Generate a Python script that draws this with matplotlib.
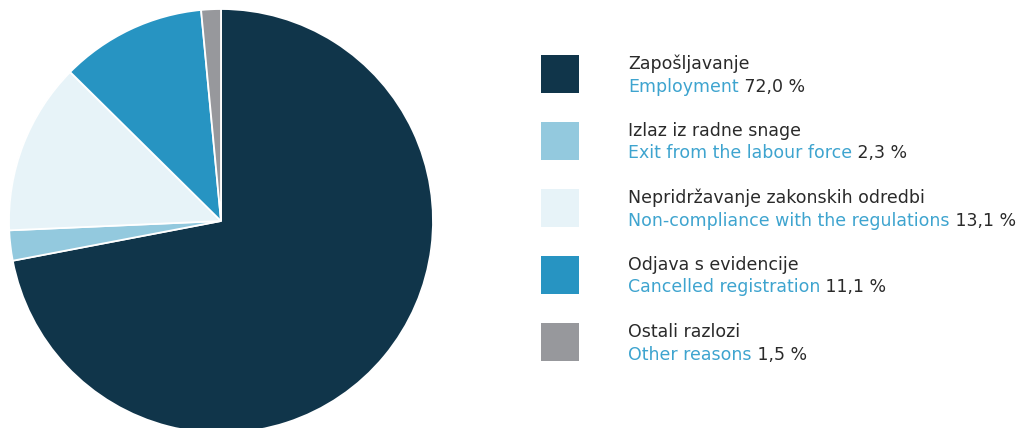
import matplotlib.pyplot as plt
from matplotlib.patches import Rectangle

# podaci
labels_hr = ['Zapošljavanje', 'Izlaz iz radne snage', 'Nepridržavanje zakonskih odredbi',
             'Odjava s evidencije', 'Ostali razlozi']
labels_en = ['Employment', 'Exit from the labour force', 'Non-compliance with the regulations',
             'Cancelled registration', 'Other reasons']
shares = [72.0, 2.3, 13.1, 11.1, 1.5]
share_text = ['72,0 %', '2,3 %', '13,1 %', '11,1 %', '1,5 %']
colors = ['#10354a', '#93c9de', '#e7f3f8', '#2794c2', '#97989c']

plt.rcParams['font.family'] = ['DejaVu Sans']

W, H = 1022, 428
fig = plt.figure(figsize=(W / 100, H / 100), dpi=100)

# pita: centar (221, 221) px, radijus 212 px
cx, cy, r = 221, 221, 212
ax = fig.add_axes([(cx - r) / W, (H - cy - r) / H, 2 * r / W, 2 * r / H])
ax.pie(shares, colors=colors, startangle=90, counterclock=False, radius=1,
       wedgeprops=dict(edgecolor='white', linewidth=1.3))
ax.set_xlim(-1, 1)
ax.set_ylim(-1, 1)
ax.set_aspect('equal')
ax.axis('off')

# legenda
dark = '#2a2a2a'
blue = '#3ea4cf'
fs = 12.5
for i in range(len(shares)):
    top = 55 + 67 * i
    fig.patches.append(Rectangle((541 / W, 1 - (top + 38) / H), 38 / W, 38 / H,
                                 facecolor=colors[i], edgecolor='none',
                                 transform=fig.transFigure, figure=fig))
    fig.text(628 / W, 1 - (top + 14) / H, labels_hr[i], color=dark, fontsize=fs,
             va='baseline', ha='left')
    t = fig.text(628 / W, 1 - (top + 36.5) / H, labels_en[i], color=blue, fontsize=fs,
                 va='baseline', ha='left')
    ax.annotate(' ' + share_text[i], xy=(1, 0), xycoords=t, color=dark, fontsize=fs,
                va='bottom', ha='left', annotation_clip=False)

fig.savefig('out.png', dpi=100)
